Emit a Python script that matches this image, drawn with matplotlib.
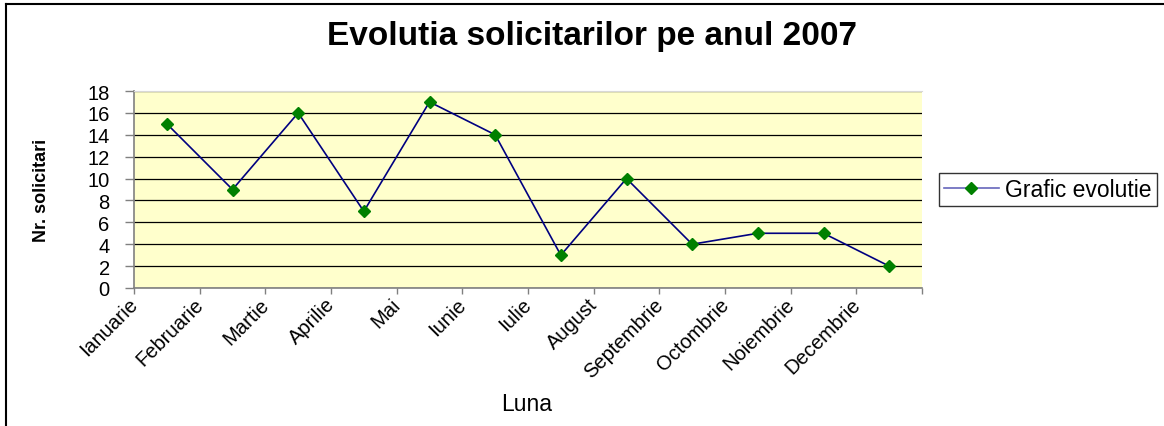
import matplotlib
matplotlib.use("Agg")
import matplotlib.pyplot as plt
import matplotlib.transforms as mtransforms
from matplotlib.lines import Line2D

plt.rcParams['font.family'] = ['Liberation Sans', 'DejaVu Sans']

# Data
months = ['Ianuarie', 'Februarie', 'Martie', 'Aprilie', 'Mai', 'Iunie',
          'Iulie', 'August', 'Septembrie', 'Octombrie', 'Noiembrie', 'Decembrie']
solicitari = [15, 9, 16, 7, 17, 14, 3, 10, 4, 5, 5, 2]
y_ticks = [0, 2, 4, 6, 8, 10, 12, 14, 16, 18]

W, H = 1164, 427
fig = plt.figure(figsize=(W / 100, H / 100), dpi=100)
fig.patch.set_facecolor('white')

# plot area (pixel box of the original)
left, right, top, bottom = 134, 922, 92, 289
ax = fig.add_axes([left / W, 1 - bottom / H, (right - left) / W, (bottom - top) / H])
ax.set_facecolor('#FFFFCC')

x = list(range(len(months)))
ax.plot(x, solicitari, color='#000080', linewidth=1.2, marker='D',
        markersize=6, markerfacecolor='#008000', markeredgecolor='#008000',
        label='Grafic evolutie', zorder=3)

ax.set_xlim(-0.5, len(months) - 0.5)
ax.set_ylim(0, 18)

# y axis
ax.set_yticks(y_ticks)
ax.set_yticklabels([str(v) for v in y_ticks], fontsize=14.5)
ax.yaxis.grid(True, color='black', linewidth=0.9)
ax.set_axisbelow(True)
ax.tick_params(axis='y', direction='out', length=6.5, width=1, color='#808080', pad=11)

# x axis: ticks on category boundaries, labels hung from the boundaries
bounds = [i - 0.5 for i in range(len(months) + 1)]
ax.set_xticks(bounds)
ax.set_xticklabels(months + [''], fontsize=14.5, rotation=45, ha='right', va='top',
                   rotation_mode='anchor')
ax.tick_params(axis='x', direction='out', length=4.5, width=1, color='#808080', pad=0)
offset = mtransforms.ScaledTranslation(-6 / 100, 0, fig.dpi_scale_trans)
for lbl in ax.get_xticklabels():
    lbl.set_transform(lbl.get_transform() + offset)

for side in ['left', 'bottom']:
    ax.spines[side].set_color('#808080')
    ax.spines[side].set_linewidth(1.2)
ax.spines['right'].set_visible(False)
ax.spines['top'].set_color('#D8D8D8')

ax.set_ylabel('Nr. solicitari', fontsize=13, fontweight='bold')
ax.yaxis.set_label_coords(-(134 - 50) / (right - left), 0.5)
fig.text(527 / W, 1 - 405 / H, 'Luna', fontsize=16.5, ha='center', va='center')

fig.text(592 / W, 1 - 36 / H, 'Evolutia solicitarilor pe anul 2007',
         fontsize=24, fontweight='bold', ha='center', va='center')

leg = ax.legend(loc='center left', bbox_to_anchor=(939 / W, 1 - 190.5 / H),
                bbox_transform=fig.transFigure, frameon=True, fancybox=False,
                edgecolor='black', fontsize=16.5, borderpad=0.2, borderaxespad=0,
                handlelength=2.4, handletextpad=0.3)
leg.get_frame().set_linewidth(1)
leg.get_lines()[0].set_color('#6666BB')

# chart frame (top and left edges visible)
fig.add_artist(Line2D([6 / W, 1], [1 - 5 / H, 1 - 5 / H], color='black',
                      linewidth=1.5, transform=fig.transFigure))
fig.add_artist(Line2D([6 / W, 6 / W], [0, 1 - 5 / H], color='black',
                      linewidth=1.5, transform=fig.transFigure))

fig.savefig('out.png', dpi=100)
